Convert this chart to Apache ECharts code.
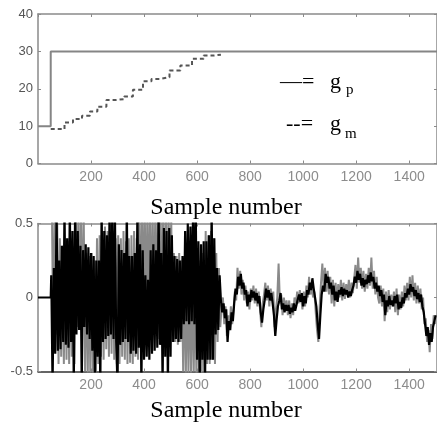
<!DOCTYPE html>
<html><head><meta charset="utf-8">
<script src="https://cdn.jsdelivr.net/npm/echarts@6/dist/echarts.min.js"></script>
<style>html,body{margin:0;padding:0;background:#fff}#c{width:437px;height:423px}</style>
</head><body><div id="c"></div>
<script>
// ---------- data ----------
const xTickValues = [200, 400, 600, 800, 1000, 1200, 1400];
const topYTicks = [0, 10, 20, 30, 40];
const bottomYTicks = [-0.5, 0, 0.5];

// g_p (plant gain): step from 10 to 30
const gpX = [0, 48, 48, 1505];
const gpY = [10, 10, 30, 30];

// g_m (model gain estimate): staircase
const gmX = [48, 100, 132, 166, 196, 224, 258, 293, 325, 358, 396, 428, 459, 496, 537, 581, 625, 662, 690];
const gmY = [9.2, 11.0, 11.9, 12.8, 13.9, 15.2, 17.0, 17.2, 17.9, 19.7, 22.0, 22.6, 23.1, 24.9, 26.2, 28.0, 28.9, 29.1, 29.1];

// bottom signal, sampled every 5 samples
const sampleStep = 5;
const leadX = [0, 48];
const leadY = [0, 0];
const blackStart = 50;
const blackEarly = [
 0.15,-0.60,0.20,-0.38,0.60,-0.36,0.25,-0.35,0.35,-0.30,
 0.60,-0.32,0.40,-0.34,0.60,-0.30,0.45,-0.60,0.60,-0.25,
 0.45,-0.22,0.35,-0.60,0.32,-0.20,0.36,-0.25,0.34,-0.28,
 0.30,-0.36,0.28,-0.60,0.25,-0.40,0.25,-0.60,0.60,-0.30,
 0.45,-0.28,0.42,-0.26,0.60,-0.25,0.55,-0.28,0.60,-0.30,
 -0.60,0.36,-0.32,0.32,-0.30,0.30,-0.28,0.60,-0.30,0.28,
 -0.38,0.28,-0.36,0.30,-0.38,0.60,-0.34,0.36,-0.60,0.32,
 -0.42,0.15,-0.40,0.12,-0.42,0.32,-0.38,0.36,-0.36,0.32,
 -0.34,0.60,-0.32,0.30,-0.60,0.47,-0.40,0.45,-0.60,0.47,
 -0.40,0.42,-0.30,0.28,-0.28,0.26,-0.30,0.25,-0.28,0.28,
 -0.18,0.45,-0.16,0.50,-0.18,0.48,-0.16,0.60,-0.18,0.60,
 -0.42,0.38,-0.60,0.36,-0.42,0.38,-0.60,0.38,-0.42,0.42,
 -0.42,0.60,-0.42,0.40,-0.25,0.20,-0.22,0.15
];
const blackLate = [
 -0.02,-0.10,-0.04,-0.14,-0.08,-0.30,-0.16,-0.22,-0.10,-0.16,
 -0.04,0.06,0.02,0.14,0.08,0.16,0.06,0.10,0.02,0.05,
 -0.06,0.02,-0.03,0.05,0.00,0.04,-0.02,0.03,-0.04,0.01,
 -0.10,-0.17,-0.08,-0.02,0.06,0.00,0.05,-0.02,0.03,-0.04,
 -0.12,-0.26,-0.15,-0.06,-0.02,0.03,-0.08,-0.04,-0.10,-0.05,
 -0.09,-0.05,-0.11,-0.07,-0.10,-0.04,-0.09,-0.05,-0.01,0.02,
 -0.03,0.03,-0.06,0.01,-0.04,0.05,0.02,0.10,0.05,0.13,
 0.06,0.00,-0.06,-0.18,-0.28,-0.12,0.02,0.08,0.04,0.16,
 0.10,0.14,0.06,0.10,0.02,0.08,-0.02,0.04,-0.03,0.05,
 0.02,0.07,0.01,0.06,0.02,0.05,0.00,0.04,0.01,0.05,
 0.08,0.14,0.10,0.18,0.12,0.16,0.08,0.13,0.07,0.12,
 0.09,0.15,0.10,0.17,0.11,0.14,0.06,0.10,0.04,0.08,
 0.01,0.05,-0.03,0.02,-0.12,-0.02,-0.06,0.01,-0.05,-0.02,
 -0.06,0.01,-0.04,0.02,-0.08,-0.03,-0.07,0.00,-0.04,0.03,
 0.00,0.06,0.02,0.09,0.04,0.07,0.01,0.05,-0.01,0.03,
 -0.03,0.02,-0.06,-0.10,-0.18,-0.26,-0.20,-0.32,-0.24,-0.30,
 -0.20,-0.16,-0.12
];
const greyStart = 52.5;
const greyEarly = [
 0.60,-0.30,0.60,-0.25,0.50,-0.45,0.40,-0.40,0.35,-0.45,
 0.40,-0.42,0.38,-0.45,0.40,-0.40,0.35,-0.45,0.60,-0.20,
 0.60,-0.18,0.60,-0.20,0.55,-0.50,0.30,-0.55,0.28,-0.55,
 0.30,-0.52,0.25,-0.55,0.40,-0.45,0.42,-0.40,0.45,-0.42,
 0.48,-0.35,0.45,-0.40,0.50,-0.38,0.45,-0.42,0.40,-0.45,
 0.42,-0.45,0.40,-0.40,0.45,-0.42,0.38,-0.45,0.40,-0.44,
 0.42,-0.45,0.45,-0.40,0.40,-0.42,0.60,-0.25,0.65,-0.22,
 0.65,-0.25,0.60,-0.20,0.65,-0.25,0.60,-0.22,0.62,-0.25,
 0.65,-0.28,0.60,-0.25,0.65,-0.30,0.60,-0.25,0.62,-0.28,
 0.55,-0.30,0.30,-0.30,0.28,-0.32,0.30,-0.30,0.25,-0.50,
 0.25,-0.55,0.22,-0.52,0.25,-0.55,0.20,-0.50,0.25,-0.55,
 0.22,-0.55,0.25,-0.52,0.30,-0.55,0.45,-0.45,0.42,-0.45,
 0.45,-0.42,0.40,-0.45,0.30,-0.30,0.20,-0.20
];
const greyLate = [
 -0.06,0.00,-0.18,-0.06,-0.26,-0.12,-0.20,-0.06,-0.18,-0.08,
 0.04,-0.02,0.20,0.06,0.18,0.02,0.12,-0.02,0.08,-0.04,
 0.04,-0.08,0.06,-0.02,0.08,-0.04,0.06,-0.06,0.04,-0.08,
 -0.20,-0.04,0.02,0.10,-0.02,0.08,-0.06,0.06,-0.02,0.04,
 -0.20,-0.08,0.00,0.23,-0.04,0.02,-0.12,0.00,-0.08,-0.02,
 -0.12,-0.02,-0.14,-0.04,-0.12,0.00,-0.06,0.04,-0.04,0.05,
 0.00,-0.08,0.04,-0.06,0.08,0.00,0.14,0.02,0.08,0.00,
 0.04,-0.10,-0.22,-0.30,-0.06,0.10,0.23,0.06,0.20,0.04,
 0.18,0.02,0.14,-0.04,0.12,-0.06,0.10,-0.02,0.09,0.00,
 0.12,-0.02,0.10,-0.01,0.09,0.02,0.12,0.00,0.10,0.03,
 0.04,0.22,0.06,0.27,0.10,0.20,0.06,0.18,0.04,0.16,
 0.06,0.20,0.08,0.27,0.06,0.18,0.02,0.14,0.00,-0.04,
 0.08,-0.06,0.06,-0.16,0.04,-0.10,0.05,-0.08,0.02,-0.06,
 0.04,-0.10,0.06,-0.12,0.02,-0.08,0.04,-0.06,0.08,-0.02,
 0.10,-0.02,0.14,0.00,0.15,-0.02,0.10,-0.04,0.08,-0.04,
 0.06,-0.08,0.00,-0.18,-0.14,-0.30,-0.22,-0.37,-0.18,-0.28,
 -0.12,-0.18
];
const xLabel = 'Sample number';

// ---------- build ----------
const zip = (xs, ys) => xs.map((x, i) => [x, ys[i]]);
const sampled = (start, vals) => vals.map((v, i) => [start + i * sampleStep, v]);
const blackData = zip(leadX, leadY).concat(sampled(blackStart, blackEarly.concat(blackLate)));
const greyData = sampled(greyStart, greyEarly.concat(greyLate));

const X_MIN = 0, X_MAX = 1505;
const axisGrey = '#8a8a8a';
const tickFont = "Liberation Sans";

function xAx(grid, pos, show, lineColor) {
  return {
    type: 'value', gridIndex: grid, position: pos, min: X_MIN, max: X_MAX, interval: 200,
    axisLine: { show: true, onZero: false, lineStyle: { color: lineColor || axisGrey, width: 1.5 } },
    axisTick: { show: true, inside: true, length: 3, lineStyle: { color: axisGrey } },
    axisLabel: {
      show: show, margin: 7, color: '#8c8c8c', fontSize: 14, fontFamily: tickFont,
      showMinLabel: false, showMaxLabel: false,
      formatter: v => xTickValues.includes(v) ? String(v) : ''
    },
    splitLine: { show: false }
  };
}
function yAx(grid, pos, show, min, max, interval, ticks) {
  return {
    type: 'value', gridIndex: grid, position: pos, min: min, max: max, interval: interval,
    axisLine: { show: true, onZero: false, lineStyle: { color: axisGrey, width: 1.5 } },
    axisTick: { show: true, inside: true, length: 3, lineStyle: { color: axisGrey } },
    axisLabel: {
      show: show, margin: 5, color: '#555', fontSize: 13, fontFamily: tickFont,
      formatter: v => ticks.includes(v) ? String(v) : ''
    },
    splitLine: { show: false }
  };
}

const chart = echarts.init(document.getElementById('c'), null, { renderer: 'canvas' });
chart.setOption({
  animation: false,
  backgroundColor: '#fff',
  grid: [
    { left: 38, top: 14, width: 400, height: 149.5 },
    { left: 38, top: 223.5, width: 400, height: 148 }
  ],
  xAxis: [
    xAx(0, 'bottom', true),
    xAx(0, 'top', false),
    xAx(1, 'bottom', true, '#333'),
    xAx(1, 'top', false)
  ],
  yAxis: [
    yAx(0, 'left', true, 0, 40, 10, topYTicks),
    yAx(0, 'right', false, 0, 40, 10, topYTicks),
    yAx(1, 'left', true, -0.5, 0.5, 0.5, bottomYTicks),
    yAx(1, 'right', false, -0.5, 0.5, 0.5, bottomYTicks)
  ],
  series: [
    { type: 'line', xAxisIndex: 0, yAxisIndex: 0, data: zip(gpX, gpY), showSymbol: false,
      lineStyle: { color: '#858585', width: 2 }, z: 3 },
    { type: 'line', xAxisIndex: 0, yAxisIndex: 0, data: zip(gmX, gmY), showSymbol: false, step: 'end',
      lineStyle: { color: '#555', width: 2, type: [4, 3] }, z: 3 },
    { type: 'line', xAxisIndex: 2, yAxisIndex: 2, data: greyData, showSymbol: false, clip: true,
      lineStyle: { color: '#8a8a8a', width: 2 }, z: 3 },
    { type: 'line', xAxisIndex: 2, yAxisIndex: 2, data: blackData, showSymbol: false, clip: true,
      lineStyle: { color: '#000', width: 2.2 }, z: 4 }
  ],
  graphic: [
    { type: 'text', x: 280, y: 82, style: { text: '\u2014=', font: '22px "Liberation Serif", serif', fill: '#000', verticalAlign: 'middle' } },
    { type: 'text', x: 330, y: 82.5, style: { text: 'g', font: '22px "Liberation Serif", serif', fill: '#000', verticalAlign: 'middle' } },
    { type: 'text', x: 346, y: 90, style: { text: 'p', font: '15px "Liberation Serif", serif', fill: '#000', verticalAlign: 'middle' } },
    { type: 'text', x: 286, y: 124, style: { text: '--=', font: '22px "Liberation Serif", serif', fill: '#000', verticalAlign: 'middle' } },
    { type: 'text', x: 330, y: 124, style: { text: 'g', font: '22px "Liberation Serif", serif', fill: '#000', verticalAlign: 'middle' } },
    { type: 'text', x: 345, y: 134, style: { text: 'm', font: '15px "Liberation Serif", serif', fill: '#000', verticalAlign: 'middle' } },
    { type: 'text', x: 226, y: 208, style: { text: xLabel, font: '24px "Liberation Serif", serif', fill: '#000', align: 'center', verticalAlign: 'middle' } },
    { type: 'text', x: 226, y: 411, style: { text: xLabel, font: '24px "Liberation Serif", serif', fill: '#000', align: 'center', verticalAlign: 'middle' } }
  ]
});
</script>
</body></html>
